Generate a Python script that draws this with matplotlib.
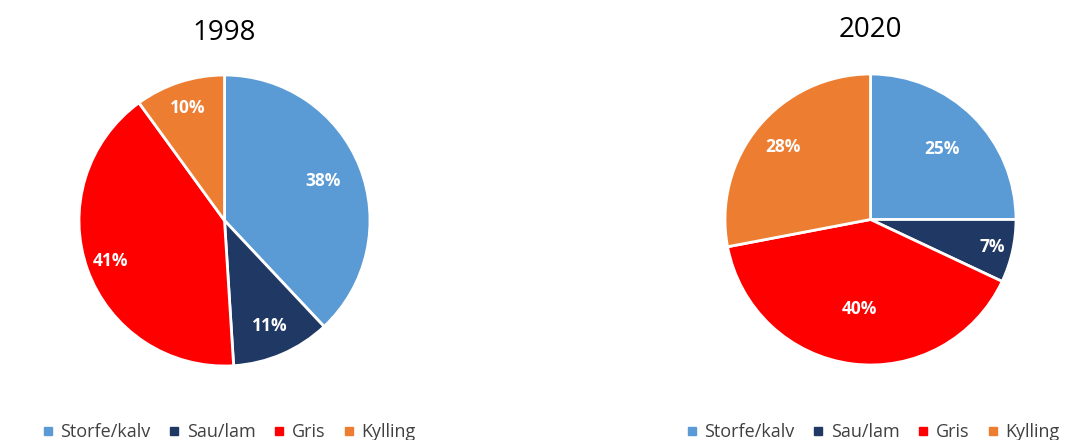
import numpy as np
import matplotlib.pyplot as plt
from matplotlib.lines import Line2D

plt.rcParams['font.family'] = ['Open Sans', 'DejaVu Sans']

categories = ['Storfe/kalv', 'Sau/lam', 'Gris', 'Kylling']
colors = ['#5B9BD5', '#203864', '#FF0000', '#ED7D31']
years = ['1998', '2020']
shares_1998 = [38, 11, 41, 10]
shares_2020 = [25, 7, 40, 28]

# label distance from centre per slice (fraction of radius)
label_r = {'1998': [0.73, 0.79, 0.83, 0.81], '2020': [0.69, 0.86, 0.62, 0.78]}

fig = plt.figure(figsize=(10.66, 4.4), dpi=100)
W, H = 1066, 440

def draw_pie(left, top, size, values, year, title_y):
    ax = fig.add_axes([left / W, 1 - (top + size) / H, size / W, size / H])
    wedges, _ = ax.pie(values, colors=colors, startangle=90, counterclock=False,
                       wedgeprops=dict(edgecolor='white', linewidth=2))
    for w, v, r in zip(wedges, values, label_r[year]):
        ang = np.deg2rad((w.theta1 + w.theta2) / 2)
        ax.text(r * np.cos(ang), r * np.sin(ang), f'{v}%', ha='center', va='center',
                color='white', fontsize=12.5, fontweight='bold')
    ax.set_xlim(-1, 1)
    ax.set_ylim(-1, 1)
    ax.set_aspect('equal')
    ax.axis('off')
    fig.text((left + size / 2) / W, 1 - title_y / H, year, ha='center', va='center', fontsize=20)

draw_pie(79, 75, 291, shares_1998, '1998', 33)
draw_pie(725, 74, 291, shares_2020, '2020', 30)

handles = [Line2D([], [], marker='s', linestyle='', color=c, markersize=6) for c in colors]
for x in (229, 873):
    fig.legend(handles, categories, loc='center', bbox_to_anchor=(x / W, 1 - 432 / H),
               ncol=4, frameon=False, fontsize=13, handlelength=0.6, handletextpad=0.4,
               columnspacing=1.0, labelcolor='#404040', borderaxespad=0, borderpad=0)

fig.savefig('out.png', dpi=100)
